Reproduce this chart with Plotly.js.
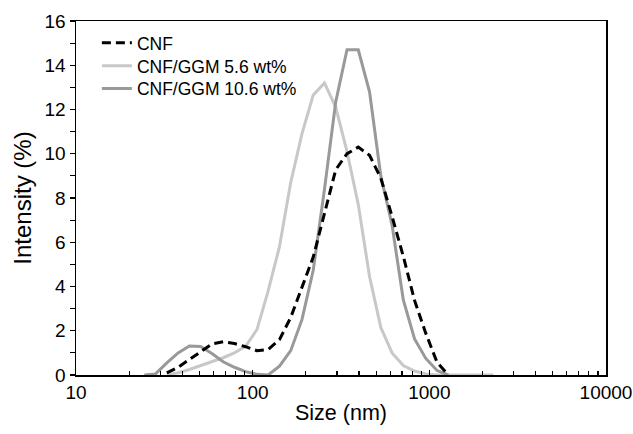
<!DOCTYPE html>
<html>
<head>
<meta charset="utf-8">
<script src="https://cdn.plot.ly/plotly-3.0.1.min.js"></script>
<style>html,body{margin:0;padding:0;background:#fff;}#chart{width:633px;height:434px;}</style>
</head>
<body>
<div id="chart"></div>
<script>
// Size bins (nm)
var sizes = [24.36, 28.21, 32.67, 37.84, 43.82, 50.75, 58.77, 68.06, 78.82, 91.28,
             105.7, 122.4, 141.8, 164.2, 190.1, 220.2, 255.0, 295.3, 342.0, 396.1,
             458.7, 531.2, 615.1, 712.4, 825.0, 955.4, 1106, 1281, 1484, 1718, 1990, 2305];

// Intensity (%)
var cnf = [null, null, 0.1, 0.35, 0.7, 1.05, 1.4, 1.5, 1.42, 1.28,
           1.1, 1.15, 1.6, 2.6, 4.0, 5.33, 7.3, 9.28, 10.0, 10.3,
           9.93, 8.9, 7.17, 5.36, 3.37, 1.88, 0.57, 0, null, null, null, null];

var ggm56 = [null, null, 0, 0.1, 0.25, 0.42, 0.6, 0.78, 1.0, 1.3,
             2.05, 3.8, 5.8, 8.7, 10.9, 12.65, 13.2, 12.1, 10.1, 7.7,
             4.45, 2.15, 1.0, 0.43, 0.18, 0.05, 0, 0, 0, 0, 0, 0];

var ggm106 = [0, 0.05, 0.55, 1.0, 1.31, 1.29, 0.97, 0.6, 0.35, 0.15,
              0.03, 0, 0.4, 1.1, 2.5, 4.73, 8.4, 12.35, 14.7, 14.7,
              12.8, 9.0, 6.78, 3.39, 1.63, 0.75, 0.2, 0, null, null, null, null];

var seriesNames = ["CNF", "CNF/GGM 5.6 wt%", "CNF/GGM 10.6 wt%"];

var xTickVals = [10, 100, 1000, 10000];
var xTickText = ["10", "100", "1000", "10000"];
var xMinorVals = [20, 30, 40, 50, 60, 70, 80, 90,
                  200, 300, 400, 500, 600, 700, 800, 900,
                  2000, 3000, 4000, 5000, 6000, 7000, 8000, 9000];
var yTickVals = [0, 2, 4, 6, 8, 10, 12, 14, 16];
var yTickText = ["0", "2", "4", "6", "8", "10", "12", "14", "16"];

var FONT = "Liberation Sans, Arial, sans-serif";

var traces = [
  {x: sizes, y: ggm56, name: seriesNames[1], mode: "lines", legend: "legend2",
   line: {color: "#c8c8c8", width: 3}},
  {x: sizes, y: ggm106, name: seriesNames[2], mode: "lines", legend: "legend3",
   line: {color: "#999999", width: 3}},
  {x: sizes, y: cnf, name: seriesNames[0], mode: "lines", legend: "legend",
   line: {color: "#000000", width: 3, dash: "9px,5px"}}
];

function legendAt(y) {
  return {x: 0.0394, y: y, xanchor: "left", yanchor: "top",
          bgcolor: "rgba(0,0,0,0)", font: {family: FONT, size: 17.5, color: "#000"}};
}

var layout = {
  width: 633, height: 434,
  margin: {l: 76, r: 27, t: 21, b: 59},
  paper_bgcolor: "#ffffff", plot_bgcolor: "#ffffff",
  font: {family: FONT, color: "#000", size: 19},
  showlegend: true,
  legend: legendAt(0.989),
  legend2: legendAt(0.924),
  legend3: legendAt(0.860),
  xaxis: {
    type: "log", range: [1, 4],
    tickmode: "array", tickvals: xTickVals, ticktext: xTickText,
    ticks: "inside", ticklen: 5, tickwidth: 1.2, tickcolor: "#000",
    minor: {tickmode: "array", tickvals: xMinorVals, ticks: "inside", ticklen: 4, tickwidth: 1.2, tickcolor: "#000", showgrid: false},
    showgrid: false, zeroline: false,
    showline: true, linecolor: "#000", linewidth: 1.5, mirror: true,
    tickfont: {family: FONT, size: 19, color: "#000"},
    title: {text: "Size (nm)", font: {family: FONT, size: 21.5, color: "#000"}, standoff: 2}
  },
  yaxis: {
    range: [0, 16],
    tickmode: "array", tickvals: yTickVals, ticktext: yTickText,
    ticks: "outside", ticklen: 5, tickwidth: 1.2, tickcolor: "#000",
    minor: {dtick: 1, ticks: "outside", ticklen: 5, tickwidth: 1.2, tickcolor: "#000", showgrid: false},
    showgrid: false, zeroline: false,
    showline: true, linecolor: "#000", linewidth: 1.5, mirror: true,
    tickfont: {family: FONT, size: 19, color: "#000"},
    title: {text: "Intensity (%)", font: {family: FONT, size: 24, color: "#000"}, standoff: 6}
  }
};

Plotly.newPlot("chart", traces, layout, {staticPlot: true, displayModeBar: false});
</script>
</body>
</html>
